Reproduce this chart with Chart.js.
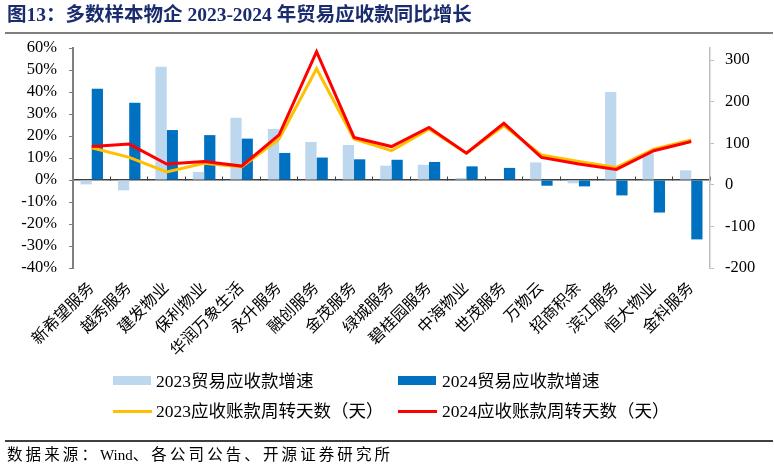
<!DOCTYPE html>
<html>
<head>
<meta charset="utf-8">
<script src="https://cdn.jsdelivr.net/npm/chart.js@4.4.1/dist/chart.umd.min.js"></script>
<style>
  html, body { margin: 0; padding: 0; background: #fff; }
  body { width: 774px; height: 470px; overflow: hidden; position: relative;
         font-family: "Liberation Serif", "Noto Sans CJK SC", serif; color: #000; }
  #wrap { position: absolute; left: 0; top: 0; width: 774px; height: 470px; }
  #title { position: absolute; left: 7px; top: 2px; font-size: 19.5px; font-weight: bold;
           color: #1A2C6E; white-space: nowrap; line-height: 26px; }
  #tline { position: absolute; left: 5px; top: 32px; width: 768px; height: 2px; background: #7f7f7f; }
  #fline { position: absolute; left: 5px; top: 440px; width: 768px; height: 1.5px; background: #404040; }
  #src { position: absolute; left: 7px; top: 444px; font-size: 15.5px; letter-spacing: 3.1px;
         white-space: nowrap; line-height: 22px; }
  #src .lat { letter-spacing: 0; font-size: 15px; }
  .lg { position: absolute; font-size: 17.5px; white-space: nowrap; line-height: 22px; }
  .sw { position: absolute; }
</style>
</head>
<body>
<div id="wrap"><canvas id="c" width="774" height="470"></canvas></div>
<div id="title">图13：多数样本物企 2023-2024 年贸易应收款同比增长</div>
<div id="tline"></div>

<div class="sw" id="sw0" style="left:113px;top:376px;width:38px;height:9px;"></div>
<div class="lg" id="lg0" style="left:156px;top:370px;"></div>
<div class="sw" id="sw1" style="left:398px;top:376px;width:38px;height:9px;"></div>
<div class="lg" id="lg1" style="left:442px;top:370px;"></div>
<div class="sw" id="sw2" style="left:113px;top:410px;width:39px;height:3px;"></div>
<div class="lg" id="lg2" style="left:156px;top:400px;"></div>
<div class="sw" id="sw3" style="left:398px;top:410px;width:39px;height:3px;"></div>
<div class="lg" id="lg3" style="left:442px;top:400px;"></div>

<div id="fline"></div>
<div id="src">数据来源：<span class="lat">Wind</span>、各公司公告、开源证券研究所</div>

<script>
// ---- data ----
const categories = ['新希望服务','越秀服务','建发物业','保利物业','华润万象生活','永升服务','融创服务','金茂服务','绿城服务','碧桂园服务','中海物业','世茂服务','万物云','招商积余','滨江服务','恒大物业','金科服务'];
const growth2023 = [-2.0, -4.7, 51.5, 3.6, 28.3, 23.2, 17.3, 15.9, 6.5, 6.9, 0.9, 0.0, 8.0, -1.5, 40.0, 12.1, 4.4];
const growth2024 = [41.5, 35.1, 22.7, 20.4, 18.8, 12.3, 10.2, 9.4, 9.2, 8.2, 6.2, 5.5, -2.6, -2.9, -7.0, -14.8, -27.0];
const days2023 = [89, 66, 31, 52, 43, 110, 279, 110, 82, 134, 76, 142, 72, 56, 42, 86, 108];
const days2024 = [92, 98, 50, 56, 45, 120, 320, 114, 92, 138, 76, 148, 66, 50, 37, 82, 104];
const leftTicks = [-40, -30, -20, -10, 0, 10, 20, 30, 40, 50, 60];
const rightTicks = [-200, -100, 0, 100, 200, 300];

const seriesNames = ['2023贸易应收款增速', '2024贸易应收款增速', '2023应收账款周转天数（天）', '2024应收账款周转天数（天）'];
const seriesColors = ['#BDD7EE', '#0070C0', '#FFC000', '#FF0000'];

seriesNames.forEach((n, i) => {
  document.getElementById('lg' + i).textContent = n;
  document.getElementById('sw' + i).style.background = seriesColors[i];
});

const FONT = '"Liberation Serif", "Noto Sans CJK SC", serif';

new Chart(document.getElementById('c'), {
  data: {
    labels: categories,
    datasets: [
      { type: 'line', label: seriesNames[3], data: days2024, yAxisID: 'y1', borderColor: seriesColors[3],
        backgroundColor: seriesColors[3], borderWidth: 3, pointRadius: 0, tension: 0, order: 0 },
      { type: 'line', label: seriesNames[2], data: days2023, yAxisID: 'y1', borderColor: seriesColors[2],
        backgroundColor: seriesColors[2], borderWidth: 3, pointRadius: 0, tension: 0, order: 1 },
      { type: 'bar', label: seriesNames[0], data: growth2023, yAxisID: 'y', backgroundColor: seriesColors[0],
        categoryPercentage: 0.6, barPercentage: 1.0, order: 2 },
      { type: 'bar', label: seriesNames[1], data: growth2024, yAxisID: 'y', backgroundColor: seriesColors[1],
        categoryPercentage: 0.6, barPercentage: 1.0, order: 3 }
    ]
  },
  options: {
    responsive: false,
    animation: false,
    events: [],
    layout: { padding: { top: 48, left: 0, right: 0, bottom: 0 } },
    plugins: { legend: { display: false }, tooltip: { enabled: false }, title: { display: false } },
    scales: {
      x: {
        type: 'category', position: 'bottom', offset: true,
        grid: { display: false, drawTicks: false },
        border: { display: false },
        ticks: { autoSkip: false, minRotation: 45, maxRotation: 45, padding: 11, color: '#000',
                 font: { family: FONT, size: 16 } },
        afterFit: s => { s.height = 202; }
      },
      x0: {
        type: 'category', axis: 'x', position: { y: 0 }, offset: true,
        grid: { display: true, drawOnChartArea: false, offset: true, tickLength: -4, color: '#404040', lineWidth: 1 },
        border: { display: true, color: '#404040', width: 1.5 },
        ticks: { display: false }
      },
      y: {
        position: 'left', min: -40, max: 60,
        afterBuildTicks: s => { s.ticks = leftTicks.map(v => ({ value: v })); },
        ticks: { autoSkip: false, padding: 12, color: '#000', font: { family: FONT, size: 16.5 }, callback: v => v + '%' },
        grid: { drawOnChartArea: false, tickLength: 4, color: '#7f7f7f' },
        border: { color: '#7f7f7f', width: 2 },
        afterFit: s => { s.width = 73; }
      },
      y1: {
        position: 'right', min: -200, max: 329,
        afterBuildTicks: s => { s.ticks = rightTicks.map(v => ({ value: v })); },
        ticks: { autoSkip: false, padding: 11, color: '#000', font: { family: FONT, size: 16.5 } },
        grid: { drawOnChartArea: false, tickLength: 4, color: '#bfbfbf' },
        border: { color: '#bfbfbf', width: 1.5 },
        afterFit: s => { s.width = 64; }
      }
    }
  }
});
</script>
</body>
</html>
